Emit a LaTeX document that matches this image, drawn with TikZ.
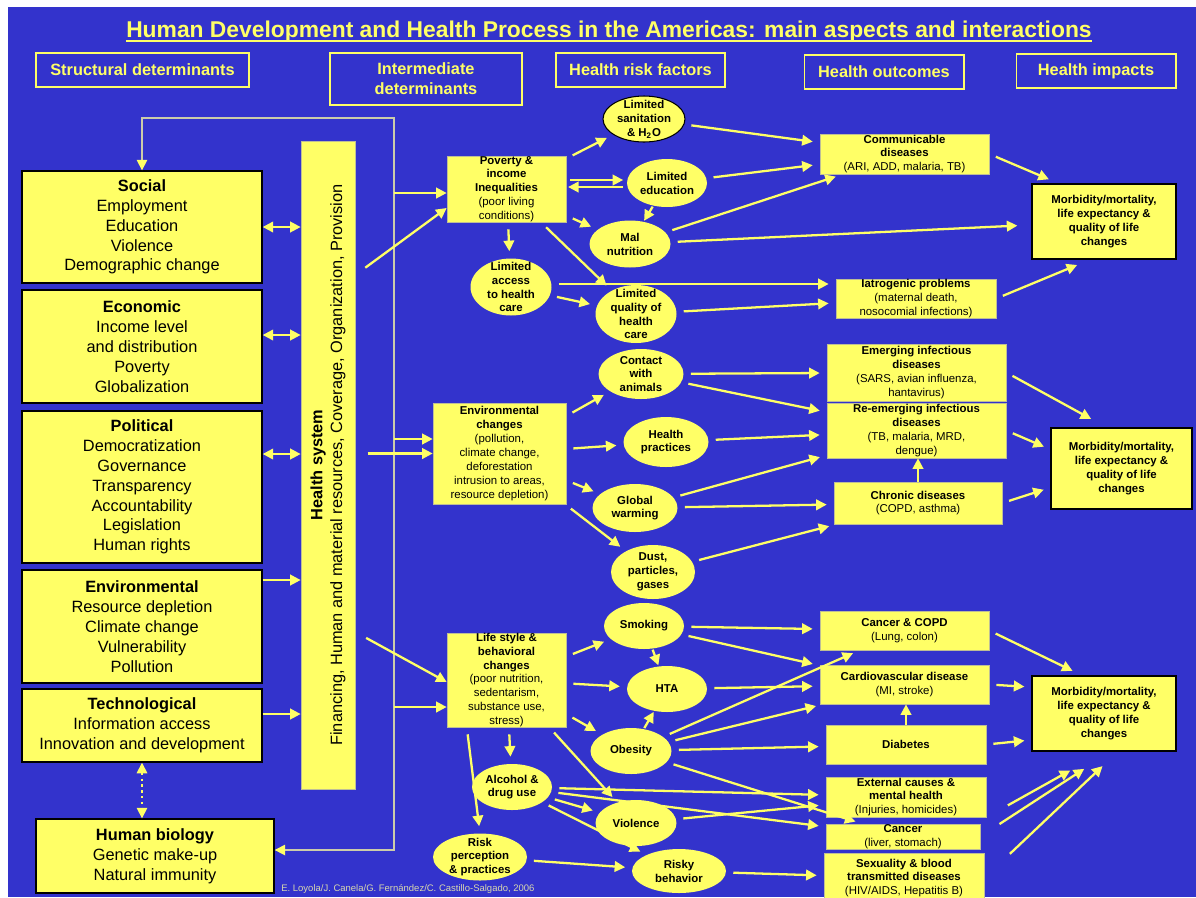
\documentclass[tikz,border=0pt]{standalone}
\usepackage{fontspec}
\setmainfont{Liberation Sans}
\usetikzlibrary{arrows.meta,shapes.geometric}

\definecolor{bgblue}{RGB}{51,51,204}
\definecolor{ylw}{RGB}{255,255,102}
\definecolor{loopcol}{RGB}{204,204,170}
\definecolor{credcol}{RGB}{215,215,175}
\definecolor{edgecol}{RGB}{190,190,150}

\newcommand\titletxt{\fontsize{13}{15}\selectfont}
\newcommand\bigtxt{\fontsize{9.3}{11.3}\selectfont}
\newcommand\smalltxt{\fontsize{6.5}{7.9}\selectfont}

\begin{document}
\begin{tikzpicture}[x=0.02cm, y=-0.02cm,
  hdr/.style={draw=ylw, line width=0.6pt, text=ylw, font=\bigtxt\bfseries, align=center, inner sep=0pt},
  lbox/.style={draw=black, line width=0.8pt, fill=ylw, font=\bigtxt, align=center, inner sep=0pt, minimum width=4.8cm},
  ybox/.style={draw=edgecol, line width=0.4pt, fill=ylw, font=\smalltxt, align=center, inner xsep=0pt, inner ysep=-4pt},
  mbox/.style={ybox, draw=black, line width=0.7pt, font=\smalltxt\bfseries},
  ell/.style={ellipse, fill=ylw, font=\smalltxt\bfseries, align=center, inner xsep=0pt, inner ysep=-12pt},
  arr/.style={draw=ylw, line width=1.3pt, -{Triangle[length=6pt,width=6pt]}, shorten <=4pt, shorten >=4pt},
  darr/.style={draw=ylw, line width=1.3pt, {Triangle[length=6pt,width=6pt]}-{Triangle[length=6pt,width=6pt]}}]
\useasboundingbox (0,0) rectangle (1196,897);
\fill[white] (0,0) rectangle (1196,897);
\fill[bgblue] (8,7) rectangle (1196,897);

\node[text=ylw, font=\titletxt\bfseries, inner sep=0pt, anchor=base] (ttl) at (609,37) {Human Development and Health Process in the Americas: main aspects and interactions};
\draw[ylw, line width=1.1pt] ([yshift=-2.3pt]ttl.base west) -- ([yshift=-2.3pt]ttl.base east);

\node[hdr, minimum width=4.26cm, minimum height=0.68cm] (hstruct) at (142.5,70) {Structural determinants};
\node[hdr, minimum width=3.84cm, minimum height=1.04cm] (hinter) at (426,79) {Intermediate\\determinants};
\node[hdr, minimum width=3.38cm, minimum height=0.68cm] (hrisk) at (640.5,70) {Health risk factors};
\node[hdr, minimum width=3.2cm, minimum height=0.68cm] (hout) at (884,72) {Health outcomes};
\node[hdr, minimum width=3.2cm, minimum height=0.68cm] (himp) at (1096,71) {Health impacts};

\node[lbox, minimum height=2.24cm] (social) at (142,227) {\textbf{Social}\\Employment\\Education\\Violence\\Demographic change};
\node[lbox, minimum height=2.26cm] (econ) at (142,346.5) {\textbf{Economic}\\Income level\\and distribution\\Poverty\\Globalization};
\node[lbox, minimum height=3.04cm] (polit) at (142,487) {\textbf{Political}\\Democratization\\Governance\\Transparency\\Accountability\\Legislation\\Human rights};
\node[lbox, minimum height=2.26cm] (envir) at (142,626.5) {\textbf{Environmental}\\Resource depletion\\Climate change\\Vulnerability\\Pollution};
\node[lbox, minimum height=1.46cm] (techn) at (142,725.5) {\textbf{Technological}\\Information access\\Innovation and development};
\node[lbox, minimum width=4.76cm, minimum height=1.48cm] (hbio) at (155,856) {\textbf{Human biology}\\Genetic make-up\\Natural immunity};

\node[fill=ylw, draw=edgecol, line width=0.4pt, minimum width=1.08cm, minimum height=12.96cm, inner sep=0pt] (bar) at (328,465) {};
\node[rotate=90, font=\bigtxt, align=center, inner sep=0pt] (bartxt) at (328,465) {\textbf{Health system}\\Financing, Human and material resources, Coverage, Organization, Provision};

\node[ybox, minimum width=2.38cm, minimum height=1.32cm] (pov) at (506.5,189) {\textbf{Poverty \&}\\\textbf{income}\\\textbf{Inequalities}\\(poor living\\conditions)};
\node[ybox, minimum width=2.66cm, minimum height=2.02cm] (envc) at (499.5,453.5) {\textbf{Environmental}\\\textbf{changes}\\(pollution,\\climate change,\\deforestation\\intrusion to areas,\\resource depletion)};
\node[ybox, minimum width=2.38cm, minimum height=1.88cm] (life) at (506.5,680) {\textbf{Life style \&}\\\textbf{behavioral}\\\textbf{changes}\\(poor nutrition,\\sedentarism,\\substance use,\\stress)};

\node[ell, draw=black, line width=0.6pt, minimum width=1.64cm, minimum height=0.92cm] (san) at (644,119) {Limited\\sanitation\\\& H\textsubscript{2}O};
\node[ell, minimum width=1.6cm, minimum height=0.96cm] (edu) at (667,183) {Limited\\education};
\node[ell, minimum width=1.62cm, minimum height=0.94cm] (mal) at (630,244) {Mal\\nutrition};
\node[ell, minimum width=1.62cm, minimum height=1.14cm] (acc) at (511,287) {Limited\\access\\to health\\care};
\node[ell, minimum width=1.62cm, minimum height=1.16cm] (qual) at (636,314) {Limited\\quality of\\health\\care};
\node[ell, minimum width=1.7cm, minimum height=1cm] (cont) at (641,374) {Contact\\with\\animals};
\node[ell, minimum width=1.7cm, minimum height=1cm] (prac) at (666,442) {Health\\practices};
\node[ell, minimum width=1.7cm, minimum height=0.96cm] (glob) at (635,508) {Global\\warming};
\node[ell, minimum width=1.68cm, minimum height=1.08cm] (dust) at (653,572) {Dust,\\particles,\\gases};
\node[ell, minimum width=1.6cm, minimum height=0.92cm] (smok) at (644,626) {Smoking};
\node[ell, minimum width=1.6cm, minimum height=0.92cm] (hta) at (667,689) {HTA};
\node[ell, minimum width=1.62cm, minimum height=0.92cm] (obes) at (631,751) {Obesity};
\node[ell, minimum width=1.6cm, minimum height=0.92cm] (alco) at (512,787) {Alcohol \&\\drug use};
\node[ell, minimum width=1.62cm, minimum height=0.92cm] (viol) at (636,823) {Violence};
\node[ell, minimum width=1.88cm, minimum height=0.94cm] (riskp) at (480,857) {Risk\\perception\\\& practices};
\node[ell, minimum width=1.88cm, minimum height=0.88cm] (risky) at (679,871) {Risky\\behavior};

\node[ybox, minimum width=3.38cm, minimum height=0.8cm] (comm) at (904.5,154) {\textbf{Communicable}\\\textbf{diseases}\\(ARI, ADD, malaria, TB)};
\node[ybox, minimum width=3.2cm, minimum height=0.78cm] (iatro) at (916,298.5) {\textbf{Iatrogenic problems}\\(maternal death,\\nosocomial infections)};
\node[ybox, minimum width=3.58cm, minimum height=1.14cm] (emerg) at (916.5,372.5) {\textbf{Emerging infectious}\\\textbf{diseases}\\(SARS, avian influenza,\\hantavirus)};
\node[ybox, minimum width=3.58cm, minimum height=1.1cm] (reem) at (916.5,430.5) {\textbf{Re-emerging infectious}\\\textbf{diseases}\\(TB, malaria, MRD,\\dengue)};
\node[ybox, minimum width=3.36cm, minimum height=0.84cm] (chron) at (918,503) {\textbf{Chronic diseases}\\(COPD, asthma)};
\node[ybox, minimum width=3.38cm, minimum height=0.78cm] (ccopd) at (904.5,630.5) {\textbf{Cancer \& COPD}\\(Lung, colon)};
\node[ybox, minimum width=3.38cm, minimum height=0.78cm] (cardio) at (904.5,684.5) {\textbf{Cardiovascular disease}\\(MI, stroke)};
\node[ybox, minimum width=3.2cm, minimum height=0.78cm] (diab) at (906,744.5) {\textbf{Diabetes}};
\node[ybox, minimum width=3.2cm, minimum height=0.8cm] (extern) at (906,797) {\textbf{External causes \&}\\\textbf{mental health}\\(Injuries, homicides)};
\node[ybox, minimum width=3.08cm, minimum height=0.5cm] (cancr) at (903,836.5) {\textbf{Cancer}\\(liver, stomach)};
\node[ybox, minimum width=3.2cm, minimum height=1cm] (sexual) at (904,878) {\textbf{Sexuality \& blood}\\\textbf{transmitted diseases}\\(HIV/AIDS, Hepatitis B)};

\node[mbox, minimum width=2.88cm, minimum height=1.5cm] (m1) at (1104,221.5) {Morbidity/mortality,\\life expectancy \&\\quality of life\\changes};
\node[mbox, minimum width=2.82cm, minimum height=1.62cm] (m2) at (1121.5,468.5) {Morbidity/mortality,\\life expectancy \&\\quality of life\\changes};
\node[mbox, minimum width=2.88cm, minimum height=1.5cm] (m3) at (1104,713.5) {Morbidity/mortality,\\life expectancy \&\\quality of life\\changes};

\node[text=credcol, font=\fontsize{5.4}{6}\selectfont, anchor=west, inner sep=0pt] (cred) at (281,889) {E. Loyola/J. Canela/G. Fernández/C. Castillo-Salgado, 2006};

\coordinate (looptop) at (394,118);
\coordinate (loopbot) at (394,850);
\draw[loopcol, line width=0.9pt, {Triangle[color=ylw,length=6pt,width=6pt]}-{Triangle[color=ylw,length=6pt,width=6pt]}] (social.north) -- (social.north |- looptop) -- (looptop) -- (loopbot) -- (loopbot -| hbio.east);

\draw[darr] (social.east) -- (social.east -| bar.west);
\draw[darr] (econ.east |- 0,335) -- (bar.west |- 0,335);
\draw[darr] (polit.east |- 0,454) -- (bar.west |- 0,454);
\draw[arr, shorten <=0pt, shorten >=0pt] (envir.east |- 0,580) -- (bar.west |- 0,580);
\draw[arr, shorten <=0pt, shorten >=0pt] (techn.east |- 0,714) -- (bar.west |- 0,714);
\draw[darr, dotted, line width=0.9pt] (techn.south) -- (techn.south |- hbio.north);

\draw[arr, shorten <=0pt, shorten >=0pt] (looptop |- 0,193) -- (pov.west |- 0,193);
\draw[arr, shorten <=7pt, shorten >=0pt] (bar.east |- 0,275) -- (pov.west |- 0,208);
\draw[arr, shorten <=0pt, shorten >=0pt] (looptop |- 0,439) -- (envc.west |- 0,439);
\draw[arr, shorten <=7pt, shorten >=0pt] (bar.east |- envc.west) -- (envc.west);
\draw[arr, shorten <=7pt, shorten >=0pt] (bar.east |- 0,632) -- (life.west |- 0,682);
\draw[arr, shorten <=0pt, shorten >=0pt] (looptop |- 0,707) -- (life.west |- 0,707);

\draw[arr] (pov) -- (san);
\draw[arr, shorten <=2pt, shorten >=2pt] (pov.east |- 0,180) -- (edu.west |- 0,180);
\draw[arr, shorten <=2pt, shorten >=1pt] (edu.west |- 0,187) -- (pov.east |- 0,187);
\draw[arr] (pov) -- (mal);
\draw[arr, shorten <=0.5pt, shorten >=0.5pt] (edu) -- (mal);
\draw[arr] (pov) -- (acc);
\draw[arr] (pov) -- (qual);
\draw[arr] (acc) -- (qual);
\draw[arr] (san) -- (comm);
\draw[arr] (edu) -- (comm);
\draw[arr] (mal) -- (comm);
\draw[arr, shorten >=8pt] (mal) -- (m1);
\draw[arr] (acc.east |- 0,284) -- (iatro.west |- 0,284);
\draw[arr] (qual) -- (iatro);
\draw[arr, shorten >=6pt] (comm.east) -- (m1.140);
\draw[arr, shorten >=8pt] (iatro.east) -- (m1.250);

\draw[arr] (envc) -- (cont);
\draw[arr] (envc) -- (prac);
\draw[arr] (envc) -- (glob);
\draw[arr] (envc) -- (dust);
\draw[arr] (cont) -- (emerg);
\draw[arr] (cont) -- (reem);
\draw[arr] (prac) -- (reem);
\draw[arr] (glob) -- (reem);
\draw[arr] (glob) -- (chron);
\draw[arr] (dust) -- (chron);
\draw[arr, shorten <=0pt, shorten >=0pt] (chron.north) -- (chron.north |- reem.south);
\draw[arr, shorten >=10pt] (emerg.east) -- (m2.110);
\draw[arr] (reem.east) -- (m2.165);
\draw[arr] (chron.east) -- (m2.195);

\draw[arr] (life) -- (smok);
\draw[arr] (life) -- (hta);
\draw[arr] (life) -- (obes);
\draw[arr] (life) -- (alco);
\draw[arr] (life) -- (viol);
\draw[arr] (life.230) -- (riskp.north);
\draw[arr, shorten <=0.5pt, shorten >=0.5pt] (smok) -- (hta);
\draw[arr, shorten <=0.5pt, shorten >=0.5pt] (obes) -- (hta);
\draw[arr] (smok) -- (ccopd);
\draw[arr] (smok) -- (cardio);
\draw[arr] (obes) -- (ccopd);
\draw[arr] (hta) -- (cardio);
\draw[arr] (obes) -- (cardio);
\draw[arr] (obes) -- (diab);
\draw[arr] (obes) -- (cancr);
\draw[arr] (alco) -- (extern);
\draw[arr] (alco) -- (cancr);
\draw[arr] (alco) -- (viol);
\draw[arr] (alco) -- (risky);
\draw[arr] (viol) -- (extern);
\draw[arr] (riskp) -- (risky);
\draw[arr] (risky) -- (sexual);
\draw[arr, shorten <=0pt, shorten >=0pt] (diab.north) -- (diab.north |- cardio.south);

\draw[arr, shorten >=6pt] (ccopd.east) -- (m3.120);
\draw[arr] (cardio.east) -- (m3.160);
\draw[arr] (diab.east) -- (m3.200);
\draw[arr, shorten <=14pt, shorten >=22pt] (extern.south east) -- (m3.south);
\draw[arr, shorten <=13pt, shorten >=18pt] (cancr.east) -- (m3.280);
\draw[arr, shorten <=20pt, shorten >=12pt] (sexual.east) -- (m3.290);
\end{tikzpicture}
\end{document}
